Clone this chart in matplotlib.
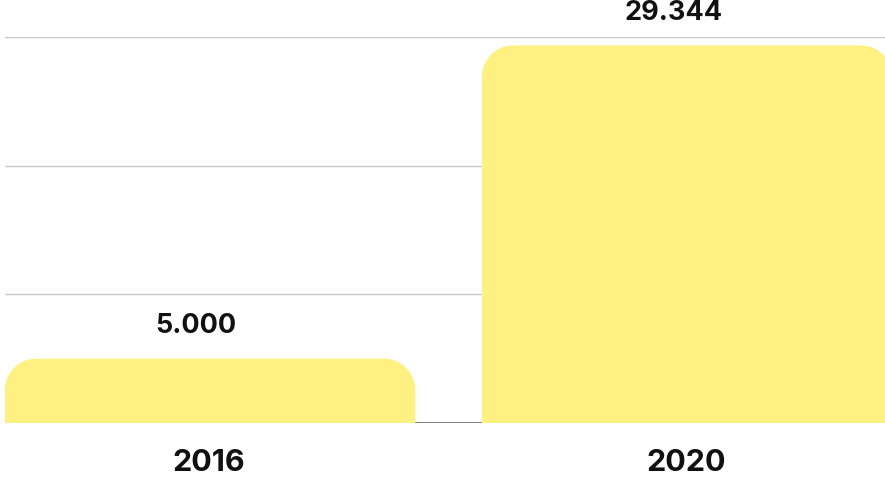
import matplotlib
matplotlib.use("Agg")
import matplotlib.pyplot as plt
from matplotlib.path import Path
from matplotlib.patches import PathPatch

categories = ["2016", "2020"]
values = [5000, 29344]
value_labels = ["5.000", "29.344"]
gridlines = [10000, 20000, 30000]

BAR_COLOR = "#FEF182"
W, H = 885, 482
fig = plt.figure(figsize=(W / 100, H / 100), dpi=100)
ax_left, ax_right = 5, 885
ax_bottom, ax_top = 423, 37
ax = fig.add_axes([ax_left / W, (H - ax_bottom) / H,
                   (ax_right - ax_left) / W, (ax_bottom - ax_top) / H])
ax.set_xlim(-0.43, 1.415)
ax.set_ylim(0, 30000)
for s in ax.spines.values():
    s.set_visible(False)
ax.set_xticks([])
ax.set_yticks([])

for g in gridlines:
    ax.axhline(g, color="#c8c8c8", lw=1, zorder=0)
ax.axhline(0, color="#666666", lw=1.2, zorder=0)

bar_w = 0.86
px_per_x = (ax_right - ax_left) / (1.415 + 0.43)
px_per_y = (ax_bottom - ax_top) / 30000
r_px = 31
rx = r_px / px_per_x
ry = r_px / px_per_y
k = 0.5523

def rounded_top_bar(ax, xc, w, h):
    x0, x1 = xc - w / 2, xc + w / 2
    ryy = min(ry, h)
    verts = [
        (x0, 0), (x0, h - ryy),
        (x0, h - ryy + k * ryy), (x0 + rx - k * rx, h), (x0 + rx, h),
        (x1 - rx, h),
        (x1 - rx + k * rx, h), (x1, h - ryy + k * ryy), (x1, h - ryy),
        (x1, 0), (x0, 0),
    ]
    codes = [Path.MOVETO, Path.LINETO,
             Path.CURVE4, Path.CURVE4, Path.CURVE4,
             Path.LINETO,
             Path.CURVE4, Path.CURVE4, Path.CURVE4,
             Path.LINETO, Path.CLOSEPOLY]
    patch = PathPatch(Path(verts, codes), facecolor=BAR_COLOR, edgecolor="none",
                      zorder=2, clip_on=False)
    ax.add_patch(patch)

font = ["Inter", "DejaVu Sans"]
for i, (cat, v, lab) in enumerate(zip(categories, values, value_labels)):
    rounded_top_bar(ax, i, bar_w, v)
    ax.annotate(lab, (i, v), xytext=(-10, 14), textcoords="offset points",
                ha="center", va="bottom", fontsize=19.5, fontweight="bold",
                family=font, color="#111111", annotation_clip=False)
    ax.annotate(cat, (i, 0), xytext=(-1, -28.5), textcoords="offset points",
                ha="center", va="center", fontsize=22, fontweight="bold",
                family=font, color="#111111", annotation_clip=False)

fig.savefig("out.png", dpi=100)
